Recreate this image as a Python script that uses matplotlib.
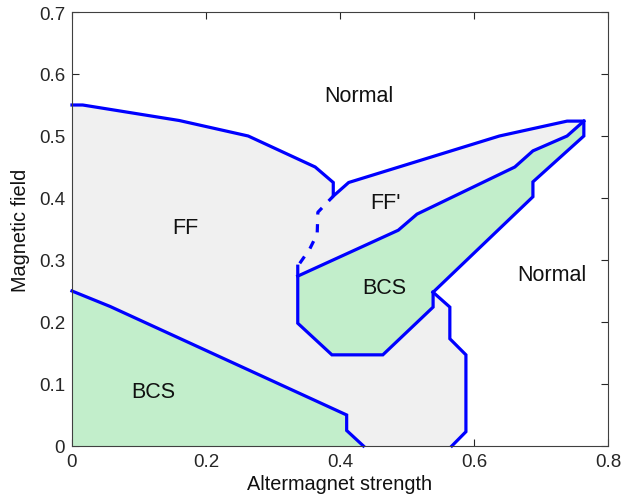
import matplotlib
matplotlib.use('Agg')
import matplotlib.pyplot as plt

plt.rcParams['font.family'] = ['Liberation Sans', 'DejaVu Sans']

# phase boundaries (altermagnet strength, magnetic field)
outer_x = [0, 0.016, 0.16, 0.263, 0.363, 0.39, 0.39, 0.413, 0.638, 0.739, 0.764, 0.764, 0.688, 0.688, 0.539]
outer_y = [0.55, 0.55, 0.525, 0.5, 0.45, 0.425, 0.403, 0.425, 0.5, 0.524, 0.524, 0.5, 0.426, 0.402, 0.248]

right_x = [0.539, 0.564, 0.564, 0.588, 0.588, 0.567]
right_y = [0.248, 0.224, 0.173, 0.147, 0.023, 0]

bcs2_low_x = [0.539, 0.539, 0.464, 0.388, 0.337, 0.337]
bcs2_low_y = [0.248, 0.224, 0.147, 0.147, 0.198, 0.29]

bcs2_top_x = [0.337, 0.487, 0.515, 0.661, 0.688, 0.739, 0.764]
bcs2_top_y = [0.274, 0.348, 0.374, 0.45, 0.476, 0.5, 0.524]

# FF / FF' boundary (dashed), from the notch downwards
dash_x = [0.39, 0.367, 0.366, 0.355, 0.337]
dash_y = [0.403, 0.377, 0.342, 0.318, 0.29]

bcs_x = [0, 0.057, 0.41, 0.41, 0.435]
bcs_y = [0.25, 0.225, 0.05, 0.025, 0]

labels = ['Normal', 'FF', "FF'", 'BCS', 'Normal', 'BCS']
label_x = [0.428, 0.169, 0.468, 0.466, 0.716, 0.121]
label_y = [0.565, 0.353, 0.392, 0.255, 0.277, 0.088]

blue = '#0000ff'
gray = '#f0f0f0'
green = '#c2eecb'

fig = plt.figure(figsize=(6.21, 5.02), dpi=100)
ax = fig.add_axes([0.1159, 0.1096, 0.8631, 0.8645])

# fills
ax.fill(outer_x + right_x + [0], outer_y + right_y + [0], color=gray, lw=0)
ax.fill(bcs2_top_x + outer_x[11:] + bcs2_low_x[1:-1],
        bcs2_top_y + outer_y[11:] + bcs2_low_y[1:-1], color=green, lw=0)
ax.fill([0] + bcs_x, [0] + bcs_y, color=green, lw=0)

lw = 2.3
for xs, ys in [(outer_x, outer_y), (right_x, right_y), (bcs2_low_x, bcs2_low_y),
               (bcs2_top_x, bcs2_top_y), (bcs_x, bcs_y)]:
    ax.plot(xs, ys, color=blue, lw=lw, solid_joinstyle='miter', clip_on=False)
ax.plot(dash_x, dash_y, color=blue, lw=lw, linestyle=(0.5, (2.6, 3.0)))

for t, x, y in zip(labels, label_x, label_y):
    ax.text(x, y, t, fontsize=15.5, ha='center', va='center', color='#111111')

ax.set_xlim(0, 0.8)
ax.set_ylim(0, 0.7)
ax.set_xticks([0, 0.2, 0.4, 0.6, 0.8])
ax.set_xticklabels(['0', '0.2', '0.4', '0.6', '0.8'])
ax.set_yticks([0, 0.1, 0.2, 0.3, 0.4, 0.5, 0.6, 0.7])
ax.set_yticklabels(['0', '0.1', '0.2', '0.3', '0.4', '0.5', '0.6', '0.7'])
ax.set_axisbelow(True)
ax.tick_params(direction='in', length=5, width=0.8, top=True, right=True,
               labelsize=13.5, colors='#262626', pad=5)
for s in ax.spines.values():
    s.set_color('#404040')
    s.set_linewidth(0.8)
    s.set_zorder(5)

ax.set_xlabel('Altermagnet strength', fontsize=14.3, color='#111111', labelpad=3)
ax.set_ylabel('Magnetic field', fontsize=14.3, color='#111111', labelpad=6)

fig.savefig('out.png', dpi=100)
